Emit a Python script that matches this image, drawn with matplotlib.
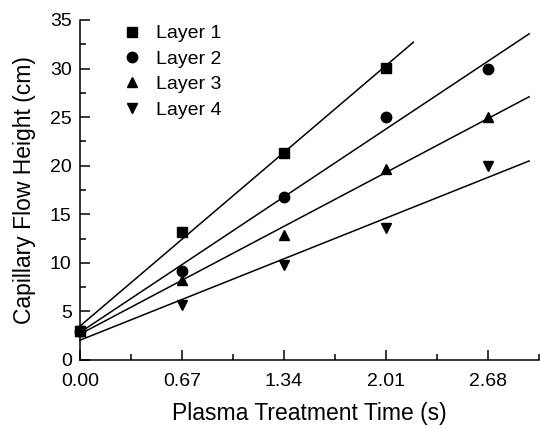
import numpy as np
import matplotlib
matplotlib.use("Agg")
import matplotlib.pyplot as plt
from matplotlib.ticker import MultipleLocator, FixedLocator

plt.rcParams['font.family'] = ['Liberation Sans', 'DejaVu Sans']

x = [0.00, 0.67, 1.34, 2.01, 2.68]
layer1 = [3.0, 13.2, 21.3, 30.1]
layer2 = [3.0, 9.2, 16.8, 25.0, 30.0]
layer3 = [3.0, 8.2, 12.9, 19.7, 25.0]
layer4 = [3.0, 5.7, 9.8, 13.6, 20.0]
series = [("Layer 1", layer1, 's', 2.19),
          ("Layer 2", layer2, 'o', 2.95),
          ("Layer 3", layer3, '^', 2.95),
          ("Layer 4", layer4, 'v', 2.95)]
xticks = [0.00, 0.67, 1.34, 2.01, 2.68]
xticklabels = ["0.00", "0.67", "1.34", "2.01", "2.68"]

fig = plt.figure(figsize=(5.4, 4.28), dpi=100)
ax = fig.add_axes([80/540, 68/428, 459/540, 340/428])

for name, ys, mk, xend in series:
    xs = np.array(x[:len(ys)])
    k, b = np.polyfit(xs, ys, 1)
    xl = np.array([0.0, xend])
    ax.plot(xl, k*xl + b, color='black', lw=1.1, clip_on=False)
    ax.plot(xs, ys, linestyle='none', marker=mk, color='black',
            markersize=7.5, label=name, clip_on=False, zorder=3)

ax.set_xlim(0, 3.015)
ax.set_ylim(0, 35)
ax.xaxis.set_major_locator(FixedLocator(xticks))
ax.set_xticklabels(xticklabels)
ax.xaxis.set_minor_locator(FixedLocator([0.335, 1.005, 1.675, 2.345, 3.015]))
ax.yaxis.set_major_locator(MultipleLocator(5))
ax.yaxis.set_minor_locator(MultipleLocator(2.5))
for s in ['top', 'right']:
    ax.spines[s].set_visible(False)
for s in ['left', 'bottom']:
    ax.spines[s].set_linewidth(1.1)
ax.tick_params(which='major', direction='in', length=7, width=1.1, labelsize=14, pad=6)
ax.tick_params(axis='x', which='major', pad=9)
ax.tick_params(which='minor', direction='in', length=4, width=1.1)

ax.set_xlabel("Plasma Treatment Time (s)", fontsize=16.5, labelpad=9)
ax.set_ylabel("Capillary Flow Height (cm)", fontsize=16.5, labelpad=10)

ax.legend(loc='upper left', bbox_to_anchor=(0.066, 1.02), frameon=False,
          fontsize=14, handlelength=1.0, handletextpad=0.75,
          labelspacing=0.4, borderaxespad=0.2)

fig.savefig("out.png", dpi=100)
